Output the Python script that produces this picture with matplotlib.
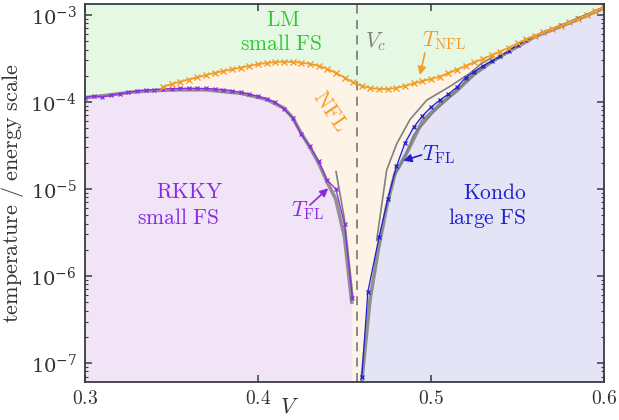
import numpy as np
import matplotlib
matplotlib.use("Agg")
import matplotlib.pyplot as plt
from matplotlib.ticker import LogLocator, NullFormatter, FixedLocator

plt.rcParams["mathtext.fontset"] = "cm"
plt.rcParams["font.family"] = "serif"
plt.rcParams["font.serif"] = ["DejaVu Serif"]

# ---- crossover scale T_NFL (orange) ----
V_nfl = [0.345, 0.350, 0.355, 0.360, 0.365, 0.370, 0.375, 0.380, 0.385, 0.390,
         0.395, 0.400, 0.405, 0.410, 0.415, 0.420, 0.425, 0.430, 0.435, 0.440,
         0.445, 0.450, 0.455, 0.460, 0.465, 0.470, 0.475, 0.480, 0.485, 0.490,
         0.495, 0.500, 0.505, 0.510, 0.515, 0.520, 0.525, 0.530, 0.535, 0.540,
         0.545, 0.550, 0.555, 0.560, 0.565, 0.570, 0.575, 0.580, 0.585, 0.590,
         0.595, 0.600]
logT_nfl = [-3.825, -3.795, -3.767, -3.742, -3.716, -3.690, -3.666, -3.645, -3.625, -3.605,
            -3.585, -3.566, -3.552, -3.542, -3.537, -3.540, -3.549, -3.562, -3.584, -3.620,
            -3.665, -3.720, -3.775, -3.815, -3.840, -3.850, -3.852, -3.838, -3.815, -3.787,
            -3.760, -3.735, -3.709, -3.670, -3.628, -3.585, -3.545, -3.505, -3.462, -3.420,
            -3.375, -3.325, -3.280, -3.238, -3.198, -3.160, -3.122, -3.083, -3.043, -3.000,
            -2.955, -2.910]

# ---- Fermi-liquid scale, RKKY side (purple) ----
V_rkky = [0.300, 0.305, 0.310, 0.315, 0.320, 0.325, 0.330, 0.335, 0.340, 0.345,
          0.350, 0.355, 0.360, 0.365, 0.370, 0.375, 0.380, 0.385, 0.390, 0.395,
          0.400, 0.405, 0.410, 0.415, 0.420, 0.425, 0.430, 0.435, 0.440, 0.445,
          0.450, 0.4545]
logT_rkky = [-3.950, -3.930, -3.940, -3.925, -3.905, -3.890, -3.875, -3.865, -3.857, -3.852,
             -3.847, -3.843, -3.842, -3.843, -3.845, -3.850, -3.857, -3.870, -3.890, -3.910,
             -3.935, -3.965, -4.005, -4.080, -4.180, -4.370, -4.510, -4.680, -4.900, -5.000,
             -5.400, -6.250]

# ---- Fermi-liquid scale, Kondo side (blue) ----
V_kondo = [0.4600, 0.4635, 0.4700, 0.4750, 0.4800, 0.4850, 0.4900, 0.4950, 0.5000, 0.5050,
           0.5100, 0.5150, 0.5200, 0.5250, 0.5300, 0.5350, 0.5400, 0.5450, 0.5500, 0.5550,
           0.5600, 0.5650, 0.5700, 0.5750, 0.5800, 0.5850, 0.5900, 0.5950, 0.6000]
logT_kondo = [-7.16, -6.18, -5.55, -5.12, -4.74, -4.47, -4.29, -4.16, -4.06, -3.98,
              -3.91, -3.83, -3.72, -3.65, -3.585, -3.53, -3.475, -3.41, -3.345, -3.29,
              -3.24, -3.195, -3.16, -3.12, -3.08, -3.04, -2.995, -2.955, -2.91]

# ---- asymptotic fits (gray) ----
V_fit_rkky = [0.300, 0.310, 0.330, 0.350, 0.370, 0.390, 0.405, 0.415, 0.420, 0.425,
              0.430, 0.435, 0.440, 0.445, 0.450, 0.4542]
logT_fit_rkky = [-3.950, -3.930, -3.880, -3.860, -3.860, -3.900, -3.970, -4.070, -4.180, -4.360,
                 -4.520, -4.700, -4.920, -5.120, -5.550, -6.300]
V_fit_rkky_pl = [0.4451, 0.4500, 0.4549]
logT_fit_rkky_pl = [-4.80, -5.35, -6.25]

V_fit_kondo = [0.4600, 0.4647, 0.4695, 0.4744, 0.4792, 0.4859, 0.4950, 0.5050, 0.5150, 0.5250,
               0.5350, 0.5450, 0.5600, 0.5800, 0.6000]
logT_fit_kondo = [-7.20, -6.28, -5.70, -5.20, -4.82, -4.59, -4.22, -4.03, -3.87, -3.68,
                  -3.54, -3.42, -3.25, -3.09, -2.92]
V_fit_kondo_hi = [0.4686, 0.4744, 0.4802, 0.4879, 0.4975, 0.5110, 0.5225, 0.5290, 0.5360]
logT_fit_kondo_hi = [-5.59, -4.78, -4.48, -4.20, -3.98, -3.82, -3.67, -3.56, -3.48]
V_fit_kondo_lo = [0.4790, 0.4840, 0.4900, 0.5013, 0.5090, 0.5140, 0.5230, 0.5330, 0.5420]
logT_fit_kondo_lo = [-4.85, -4.67, -4.38, -4.12, -3.98, -3.88, -3.71, -3.56, -3.45]

V_c = 0.4574
V_lim = (0.3, 0.6)
T_lim = (10 ** -7.218, 10 ** -2.874)
x_ticks = [0.3, 0.4, 0.5, 0.6]
x_ticklabels = ["$0.3$", "$0.4$", "$0.5$", "$0.6$"]

c_green_bg = "#e4f8e4"
c_orange_bg = "#fdf3e6"
c_purple_bg = "#f0e4f6"
c_blue_bg = "#e4e4f6"
c_orange = "#f49d26"
c_purple = "#8a2be2"
c_blue = "#1f1fcf"
c_green = "#33c833"
c_gray = "#808080"

def T(vals):
    return 10.0 ** np.asarray(vals)

fig = plt.figure(figsize=(6.19, 4.20), dpi=100)
ax = fig.add_axes([85 / 619, 38 / 420, 519 / 619, 378 / 420])
ax.set_yscale("log")
ax.set_xlim(*V_lim)
ax.set_ylim(*T_lim)
ax.set_facecolor(c_green_bg)

floor = 1e-9
ax.fill_between(V_nfl, floor, T(logT_nfl), color=c_orange_bg, lw=0, zorder=1)
ax.fill_between(V_rkky, floor, T(logT_rkky), color=c_purple_bg, lw=0, zorder=1.1)
ax.fill_between(V_kondo + [0.61], floor, list(T(logT_kondo)) + [1e-2],
                color=c_blue_bg, lw=0, zorder=1.1)

ax.axvline(V_c, color=c_gray, lw=1.3, dashes=(5, 3.5), zorder=2)

# fits
ax.plot(V_fit_rkky, T(logT_fit_rkky), color=c_gray, lw=2.6, alpha=0.85, zorder=3)
ax.plot(V_fit_rkky_pl, T(logT_fit_rkky_pl), color=c_gray, lw=1.2, zorder=3)
ax.plot(V_fit_kondo, T(logT_fit_kondo), color=c_gray, lw=2.6, alpha=0.85, zorder=3)
ax.plot(V_fit_kondo_hi, T(logT_fit_kondo_hi), color=c_gray, lw=1.2, zorder=3)
ax.plot(V_fit_kondo_lo, T(logT_fit_kondo_lo), color=c_gray, lw=1.2, zorder=3)

# data
ax.plot(V_rkky, T(logT_rkky), color=c_purple, lw=0.9, marker="x", ms=3, mew=0.9, zorder=4)
ax.plot(V_kondo, T(logT_kondo), color=c_blue, lw=0.9, marker="x", ms=3, mew=0.9, zorder=4)
ax.plot(V_nfl, T(logT_nfl), color=c_orange, lw=1.3, marker="x", ms=4, mew=1.0, zorder=5)

fs = 15.5
ax.text(0.4145, 10 ** -3.057, r"$\mathrm{LM}$", color=c_green, fontsize=fs, ha="center", va="center", zorder=6)
ax.text(0.4133, 10 ** -3.333, r"$\mathrm{small\ FS}$", color=c_green, fontsize=fs, ha="center", va="center", zorder=6)
ax.text(0.3607, 10 ** -5.034, r"$\mathrm{RKKY}$", color=c_purple, fontsize=fs, ha="center", va="center", zorder=6)
ax.text(0.3538, 10 ** -5.333, r"$\mathrm{small\ FS}$", color=c_purple, fontsize=fs, ha="center", va="center", zorder=6)
ax.text(0.5370, 10 ** -5.046, r"$\mathrm{Kondo}$", color=c_blue, fontsize=fs, ha="center", va="center", zorder=6)
ax.text(0.5324, 10 ** -5.333, r"$\mathrm{large\ FS}$", color=c_blue, fontsize=fs, ha="center", va="center", zorder=6)
ax.text(0.4416, 10 ** -4.103, r"$\mathrm{NFL}$", color=c_orange, fontsize=fs, ha="center", va="center",
        rotation=-56, zorder=6)
ax.text(0.4682, 10 ** -3.31, r"$V_c$", color=c_gray, fontsize=fs, ha="center", va="center", zorder=6)

ax.text(0.5075, 10 ** -3.299, r"$T_{\mathrm{NFL}}$", color=c_orange, fontsize=fs, ha="center", va="center", zorder=6)
ax.annotate("", xy=(0.4936, 10 ** -3.69), xytext=(0.4965, 10 ** -3.437),
            arrowprops=dict(arrowstyle="-|>", color=c_orange, lw=1.2, mutation_scale=12,
                            shrinkA=0, shrinkB=0), zorder=6)

ax.text(0.5046, 10 ** -4.609, r"$T_{\mathrm{FL}}$", color=c_blue, fontsize=fs, ha="center", va="center", zorder=6)
ax.annotate("", xy=(0.4840, 10 ** -4.675), xytext=(0.4946, 10 ** -4.609),
            arrowprops=dict(arrowstyle="-|>", color=c_blue, lw=1.2, mutation_scale=12,
                            shrinkA=0, shrinkB=0), zorder=6)

ax.text(0.4289, 10 ** -5.253, r"$T_{\mathrm{FL}}$", color=c_purple, fontsize=fs, ha="center", va="center", zorder=6)
ax.annotate("", xy=(0.4406, 10 ** -4.992), xytext=(0.4300, 10 ** -5.184),
            arrowprops=dict(arrowstyle="-|>", color=c_purple, lw=1.2, mutation_scale=12,
                            shrinkA=0, shrinkB=0), zorder=6)

# axes styling
spine_c = "#3a3a44"
for s in ax.spines.values():
    s.set_color(spine_c)
    s.set_linewidth(1.3)
    s.set_zorder(10)
ax.xaxis.set_major_locator(FixedLocator(x_ticks))
ax.set_xticklabels(x_ticklabels)
ax.yaxis.set_major_locator(LogLocator(base=10, numticks=20))
ax.yaxis.set_minor_locator(LogLocator(base=10, subs=np.arange(2, 10), numticks=20))
ax.yaxis.set_minor_formatter(NullFormatter())
ax.tick_params(which="both", direction="in", top=True, right=True, color=spine_c,
               labelcolor="#333333", labelsize=14)
ax.tick_params(which="major", length=5, width=1.1, pad=6)
ax.tick_params(which="minor", length=2.5, width=0.8)

ax.set_ylabel(r"$\mathrm{temperature\ /\ energy\ scale}$", fontsize=16, color="#333333", labelpad=3)
ax.text(0.4185, -0.066, r"$V$", transform=ax.get_xaxis_transform(), fontsize=16,
        color="#333333", ha="center", va="center")

fig.savefig("out.png", dpi=100, facecolor="white")
